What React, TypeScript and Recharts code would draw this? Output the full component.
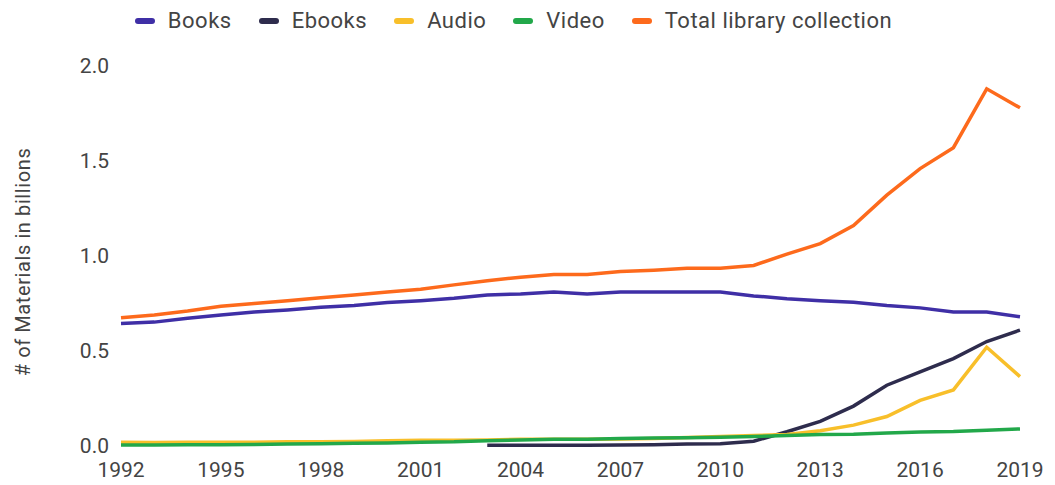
import { LineChart, Line, XAxis, YAxis, Legend } from 'recharts'

const years = [
  1992, 1993, 1994, 1995, 1996, 1997, 1998, 1999, 2000, 2001, 2002, 2003, 2004, 2005,
  2006, 2007, 2008, 2009, 2010, 2011, 2012, 2013, 2014, 2015, 2016, 2017, 2018, 2019,
]

const books = [
  0.645, 0.652, 0.672, 0.69, 0.705, 0.716, 0.73, 0.74, 0.755, 0.765, 0.778, 0.795, 0.8, 0.81,
  0.8, 0.81, 0.81, 0.81, 0.81, 0.79, 0.775, 0.765, 0.757, 0.74, 0.727, 0.705, 0.705, 0.68,
]

const ebooks = [
  null, null, null, null, null, null, null, null, null, null, null, 0.004, 0.004, 0.004,
  0.004, 0.005, 0.007, 0.01, 0.012, 0.025, 0.075, 0.13, 0.21, 0.32, 0.39, 0.46, 0.55, 0.61,
]

const audio = [
  0.02, 0.018, 0.02, 0.02, 0.02, 0.022, 0.022, 0.024, 0.028, 0.03, 0.03, 0.032, 0.035, 0.035,
  0.035, 0.037, 0.04, 0.045, 0.05, 0.055, 0.06, 0.08, 0.11, 0.155, 0.24, 0.295, 0.52, 0.365,
]

const video = [
  0.005, 0.005, 0.006, 0.007, 0.008, 0.01, 0.012, 0.014, 0.016, 0.02, 0.022, 0.028, 0.032, 0.035,
  0.036, 0.04, 0.042, 0.044, 0.046, 0.05, 0.055, 0.06, 0.062, 0.068, 0.074, 0.076, 0.083, 0.09,
]

const total = [
  0.675, 0.69, 0.71, 0.735, 0.75, 0.765, 0.78, 0.795, 0.81, 0.825, 0.848, 0.87, 0.888, 0.903,
  0.903, 0.918, 0.925, 0.935, 0.935, 0.95, 1.01, 1.065, 1.16, 1.32, 1.46, 1.57, 1.88, 1.78,
]

const xTicks = [1992, 1995, 1998, 2001, 2004, 2007, 2010, 2013, 2016, 2019]
const yTicks = [0, 0.5, 1, 1.5, 2]

const series = [
  { key: 'books', name: 'Books', color: '#3f2fa6' },
  { key: 'ebooks', name: 'Ebooks', color: '#2e2c4d' },
  { key: 'audio', name: 'Audio', color: '#f8bf2a' },
  { key: 'video', name: 'Video', color: '#22a84a' },
  { key: 'total', name: 'Total library collection', color: '#fd6a1c' },
]

const data = years.map((year, i) => ({
  year,
  books: books[i],
  ebooks: ebooks[i],
  audio: audio[i],
  video: video[i],
  total: total[i],
}))

const FONT = 'Roboto, "Noto Sans", sans-serif'

function LegendRow() {
  return (
    <div style={{ display: 'flex', justifyContent: 'center', alignItems: 'center', fontFamily: FONT, paddingLeft: 34 }}>
      {series.map((s) => (
        <div key={s.key} style={{ display: 'flex', alignItems: 'center', marginRight: 27 }}>
          <span
            style={{
              display: 'inline-block',
              width: 20,
              height: 6,
              borderRadius: 3,
              background: s.color,
              marginRight: 13,
            }}
          />
          <span style={{ fontSize: 22, letterSpacing: 0.5, color: '#444' }}>{s.name}</span>
        </div>
      ))}
    </div>
  )
}

function YLabel(props: any) {
  const { viewBox } = props
  const x = viewBox.x + 23
  const y = viewBox.y + viewBox.height / 2 + 6
  return (
    <text
      x={x}
      y={y}
      transform={`rotate(-90, ${x}, ${y})`}
      textAnchor="middle"
      dominantBaseline="central"
      fill="#444"
      fontSize={20}
      letterSpacing={0.6}
      fontFamily={FONT}
    >
      # of Materials in billions
    </text>
  )
}

export default function App() {
  return (
    <div style={{ position: 'absolute', left: 0, top: 0, background: '#fff' }}>
      <LineChart width={1055} height={485} data={data} margin={{ top: 66, right: 35, bottom: 2, left: 0 }}>
        <Legend verticalAlign="middle" align="center" wrapperStyle={{ top: 8 }} content={() => <LegendRow />} />
        <XAxis
          dataKey="year"
          type="number"
          domain={[1992, 2019]}
          ticks={xTicks}
          axisLine={false}
          tickLine={false}
          tickSize={0}
          tickMargin={16}
          height={37}
          tick={{ fill: '#444', fontSize: 21, fontFamily: FONT }}
        />
        <YAxis
          domain={[0, 2]}
          ticks={yTicks}
          axisLine={false}
          tickLine={false}
          tickSize={0}
          tickMargin={12}
          width={121}
          tickFormatter={(v: number) => v.toFixed(1)}
          tick={{ fill: '#444', fontSize: 21, fontFamily: FONT }}
          label={<YLabel />}
        />
        {series.map((s) => (
          <Line
            key={s.key}
            type="linear"
            dataKey={s.key}
            name={s.name}
            stroke={s.color}
            strokeWidth={3.5}
            dot={false}
            activeDot={false}
            isAnimationActive={false}
          />
        ))}
      </LineChart>
    </div>
  )
}
